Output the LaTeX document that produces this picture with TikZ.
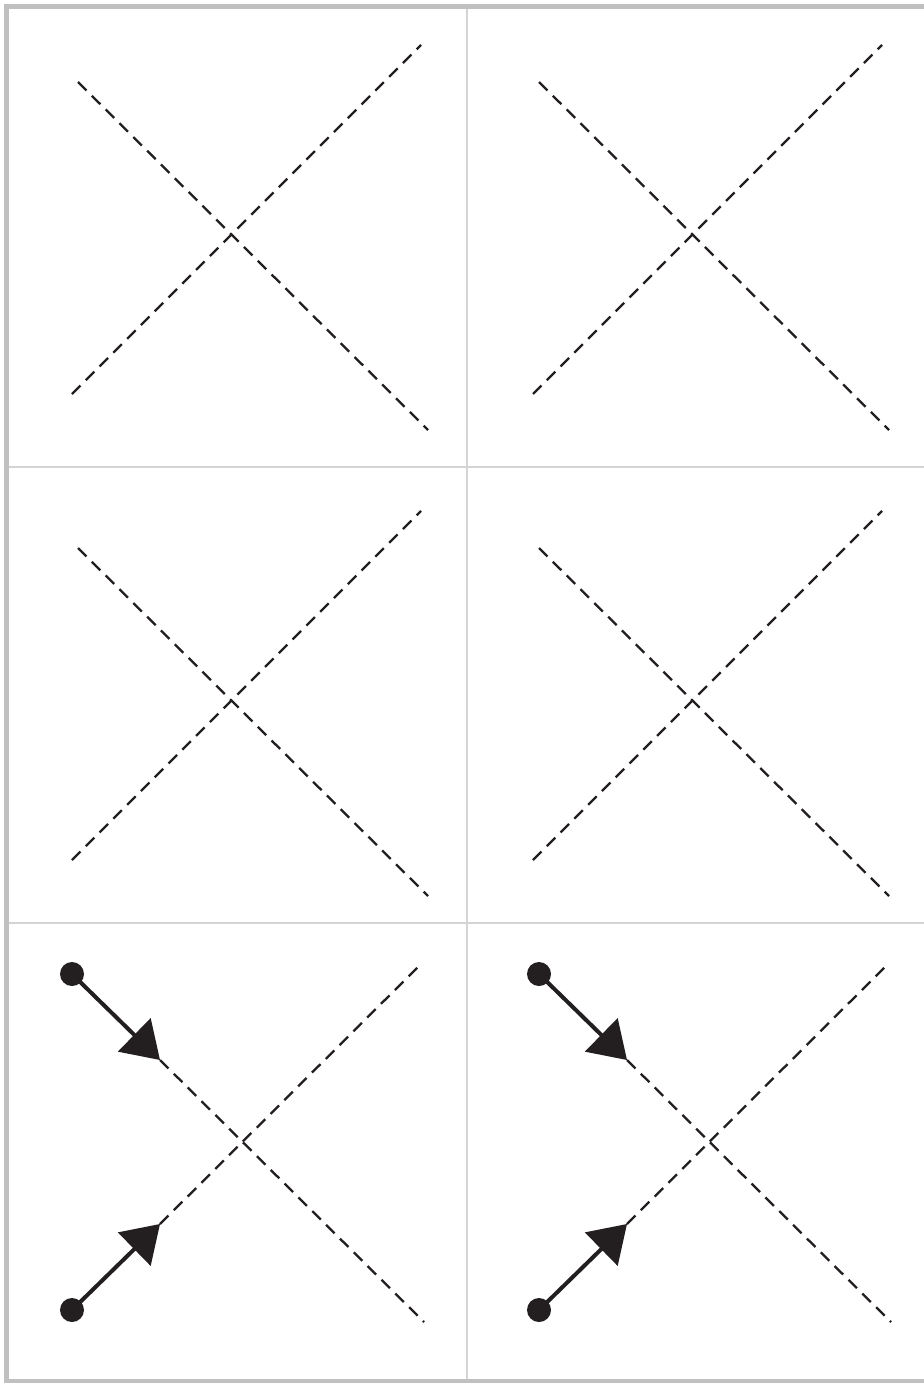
\documentclass[tikz,border=0pt]{standalone}
\usetikzlibrary{arrows.meta}
\definecolor{ink}{RGB}{35,31,32}
\definecolor{frame}{RGB}{192,192,192}
\definecolor{grid}{RGB}{212,212,212}
\tikzset{
  dashline/.style={draw=ink, line width=2.3pt, dash pattern=on 12pt off 7.5pt},
  framestyle/.style={draw=frame, line width=4.5pt},
  gridline/.style={draw=grid, line width=2pt},
  solidarrow/.style={draw=ink, line width=4pt, -{Triangle[length=36pt,width=46pt]}},
  dotstyle/.style={fill=ink}
}
\newcommand{\dashX}[1]{%
  \begin{scope}[shift={#1}]
    \coordinate (a1) at (78,82);
    \coordinate (a2) at (428,430);
    \coordinate (b1) at (72,394);
    \coordinate (b2) at (421,45);
    \draw[dashline] (a1) -- (a2);
    \draw[dashline] (b1) -- (b2);
  \end{scope}}
\newcommand{\arrowX}[1]{%
  \begin{scope}[shift={#1}]
    \coordinate (p1) at (72,974);
    \coordinate (t1) at (160,1060);
    \coordinate (e1) at (424,1322);
    \coordinate (p2) at (72,1310);
    \coordinate (t2) at (160,1224);
    \coordinate (e2) at (422,963);
    \draw[dashline] (t1) -- (e1);
    \draw[dashline] (t2) -- (e2);
    \draw[solidarrow] (p1) -- (t1);
    \draw[solidarrow] (p2) -- (t2);
    \fill[dotstyle] (p1) circle[radius=12];
    \fill[dotstyle] (p2) circle[radius=12];
  \end{scope}}
\begin{document}
\begin{tikzpicture}[x=1pt,y=-1pt]
  \useasboundingbox (0,0) rectangle (923,1383);
  \fill[white] (0,0) rectangle (923,1383);
  % grid
  \coordinate (vtop) at (466.5,8);
  \coordinate (vbot) at (466.5,1380);
  \coordinate (h1l) at (8,466.5);
  \coordinate (h1r) at (930,466.5);
  \coordinate (h2l) at (8,923);
  \coordinate (h2r) at (930,923);
  \draw[gridline] (vtop) -- (vbot);
  \draw[gridline] (h1l) -- (h1r);
  \draw[gridline] (h2l) -- (h2r);
  % frame
  \coordinate (fa) at (6.5,6.5);
  \coordinate (fb) at (940,1381.5);
  \draw[framestyle] (fa) rectangle (fb);
  % cells
  \dashX{(0,0)}
  \dashX{(461,0)}
  \dashX{(0,466)}
  \dashX{(461,466)}
  \arrowX{(0,0)}
  \arrowX{(467,0)}
\end{tikzpicture}
\end{document}
